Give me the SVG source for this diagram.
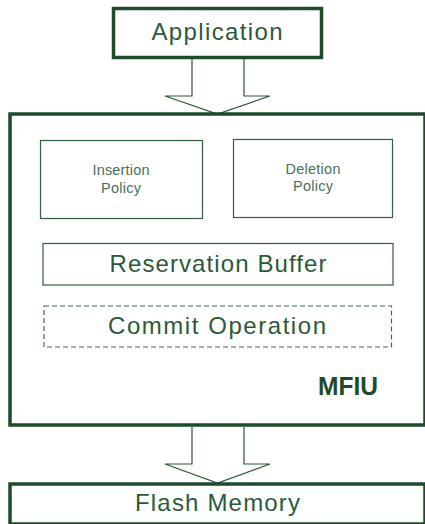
<svg xmlns="http://www.w3.org/2000/svg" width="425" height="524" viewBox="0 0 425 524">
  <style>
    .outer { fill: #ffffff; stroke: #1d4b2c; stroke-width: 3.5; }
    .inner { fill: #ffffff; stroke: #2f5f3f; stroke-width: 1.2; }
    .dash { fill: #ffffff; stroke: #3f6a50; stroke-width: 1.2; stroke-dasharray: 5 3; }
    .arrow { fill: #ffffff; stroke: #2a5838; stroke-width: 1.2; stroke-linejoin: miter; }
    text { font-family: "Liberation Sans", Arial, sans-serif; text-anchor: middle; }
    .big { font-size: 24px; fill: #2b5a3b; }
    .small { font-size: 14.5px; fill: #4a7058; }
    .label { font-size: 26px; font-weight: bold; fill: #1d4b2c; }
  </style>
  <rect width="425" height="524" fill="#ffffff"/>

  <g id="connectors">
    <path class="arrow" d="M192,59 V96 H165 L217.5,114 L270,96 H244 V59"/>
    <path class="arrow" d="M192,427 V464 H165 L217.5,483 L270,464 H244 V427"/>
  </g>

  <g id="application">
    <rect class="outer" x="113.5" y="8.5" width="208" height="49"/>
    <text class="big" x="217" y="40" textLength="131" lengthAdjust="spacing">Application</text>
  </g>

  <g id="mfiu">
    <rect class="outer" x="10" y="114" width="415" height="311"/>
    <text class="label" x="348" y="394.5" textLength="60" lengthAdjust="spacingAndGlyphs">MFIU</text>
  </g>

  <g id="insertion-policy">
    <rect class="inner" x="40.5" y="140.5" width="162" height="78"/>
    <text class="small" x="121" y="175" textLength="57" lengthAdjust="spacing">Insertion</text>
    <text class="small" x="121" y="193" textLength="40" lengthAdjust="spacing">Policy</text>
  </g>

  <g id="deletion-policy">
    <rect class="inner" x="233.5" y="139.5" width="159" height="78"/>
    <text class="small" x="313" y="174" textLength="55" lengthAdjust="spacing">Deletion</text>
    <text class="small" x="313" y="191" textLength="40" lengthAdjust="spacing">Policy</text>
  </g>

  <g id="reservation-buffer">
    <rect class="inner" x="43" y="243.5" width="350" height="41.5"/>
    <text class="big" x="218" y="272" textLength="217" lengthAdjust="spacing">Reservation Buffer</text>
  </g>

  <g id="commit-operation">
    <rect class="dash" x="44" y="306" width="347.5" height="41"/>
    <text class="big" x="217" y="334" textLength="218" lengthAdjust="spacing">Commit Operation</text>
  </g>

  <g id="flash-memory">
    <rect class="outer" x="10" y="484" width="415" height="40"/>
    <text class="big" x="217.5" y="511" textLength="165" lengthAdjust="spacing">Flash Memory</text>
  </g>
</svg>
